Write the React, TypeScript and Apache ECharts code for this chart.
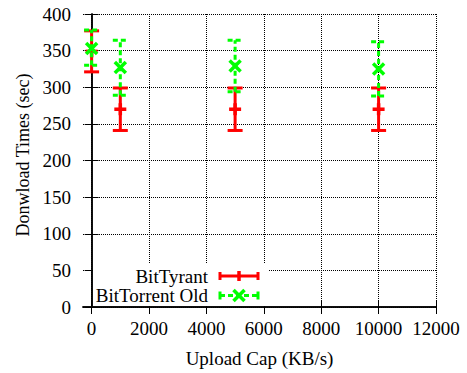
import React, { useEffect, useRef } from "react";
import * as echarts from "echarts";

const uploadCaps = [0, 1000, 5000, 10000];
const tyrantMean = [349, 270, 270, 270];
const tyrantLow = [321, 241, 241, 241];
const tyrantHigh = [377, 299, 299, 299];
const oldMean = [353, 327, 329, 325];
const oldLow = [330, 289, 294, 288];
const oldHigh = [378, 364, 364, 362];
const xTicks = [0, 2000, 4000, 6000, 8000, 10000, 12000];
const seriesNames = ["BitTyrant", "BitTorrent Old"];
const xTitle = "Upload Cap (KB/s)";
const yTitle = "Donwload Times (sec)";

const FONT = "Liberation Serif";
const RED = "#ff0000";
const GREEN = "#00ff00";
const DASH = [5, 3];

function makeRender(kind: "plus" | "cross", color: string, dash: number[] | null) {
  return (params: any, api: any) => {
    const x = api.value(0);
    const p = api.coord([x, api.value(1)]);
    const lo = api.coord([x, api.value(2)]);
    const hi = api.coord([x, api.value(3)]);
    const cap = 7.5;
    const style: any = { stroke: color, lineWidth: 3, fill: null };
    if (dash) style.lineDash = dash;
    const children: any[] = [
      { type: "line", shape: { x1: p[0], y1: lo[1], x2: p[0], y2: hi[1] }, style },
      { type: "line", shape: { x1: p[0] - cap, y1: lo[1], x2: p[0] + cap, y2: lo[1] }, style },
      { type: "line", shape: { x1: p[0] - cap, y1: hi[1], x2: p[0] + cap, y2: hi[1] }, style },
    ];
    const ms: any = { stroke: color, lineWidth: 3.5, fill: null };
    if (kind === "plus") {
      children.push({ type: "line", shape: { x1: p[0] - 6, y1: p[1], x2: p[0] + 6, y2: p[1] }, style: ms });
      children.push({ type: "line", shape: { x1: p[0], y1: p[1] - 6, x2: p[0], y2: p[1] + 6 }, style: ms });
    } else {
      children.push({ type: "line", shape: { x1: p[0] - 5.5, y1: p[1] - 5.5, x2: p[0] + 5.5, y2: p[1] + 5.5 }, style: ms });
      children.push({ type: "line", shape: { x1: p[0] - 5.5, y1: p[1] + 5.5, x2: p[0] + 5.5, y2: p[1] - 5.5 }, style: ms });
    }
    return { type: "group", children };
  };
}

function legendSample(y: number, color: string, dash: number[] | null, kind: "plus" | "cross") {
  const x1 = 220, x2 = 258, xm = 239;
  const style: any = { stroke: color, lineWidth: 3, fill: null };
  if (dash) style.lineDash = dash;
  const ms: any = { stroke: color, lineWidth: 3.5, fill: null };
  const els: any[] = [
    { type: "line", z: 12, shape: { x1, y1: y, x2, y2: y }, style },
    { type: "line", z: 12, shape: { x1, y1: y - 4, x2: x1, y2: y + 4 }, style: { stroke: color, lineWidth: 3 } },
    { type: "line", z: 12, shape: { x1: x2, y1: y - 4, x2, y2: y + 4 }, style: { stroke: color, lineWidth: 3 } },
  ];
  if (kind === "plus") {
    els.push({ type: "line", z: 12, shape: { x1: xm, y1: y - 5, x2: xm, y2: y + 5 }, style: ms });
  } else {
    els.push({ type: "line", z: 12, shape: { x1: xm - 5.5, y1: y - 5.5, x2: xm + 5.5, y2: y + 5.5 }, style: ms });
    els.push({ type: "line", z: 12, shape: { x1: xm - 5.5, y1: y + 5.5, x2: xm + 5.5, y2: y - 5.5 }, style: ms });
  }
  return els;
}

export default function App() {
  const ref = useRef<HTMLDivElement>(null);
  useEffect(() => {
    if (!ref.current) return;
    const chart = echarts.init(ref.current, null, { renderer: "svg" });
    const tyrantData = uploadCaps.map((x, i) => [x, tyrantMean[i], tyrantLow[i], tyrantHigh[i]]);
    const oldData = uploadCaps.map((x, i) => [x, oldMean[i], oldLow[i], oldHigh[i]]);
    const axisLine = { show: true, lineStyle: { color: "#000", width: 1.5 } };
    const grid = { show: true, lineStyle: { color: "#000", width: 1, type: "dotted" } };
    const label = { color: "#000", fontFamily: FONT, fontSize: 19 };
    chart.setOption({
      animation: false,
      backgroundColor: "#fff",
      grid: { left: 83, right: 31, top: 14, bottom: 60, containLabel: false },
      xAxis: [
        {
          type: "value",
          min: -300,
          max: 12000,
          position: "bottom",
          axisLine,
          axisTick: { show: true, inside: true, length: 7, customValues: xTicks, lineStyle: { color: "#000", width: 1 } },
          axisLabel: { ...label, margin: 12, customValues: xTicks, formatter: (v: number) => String(v) },
          splitLine: grid,
          name: xTitle,
          nameLocation: "middle",
          nameGap: 42,
          nameTextStyle: { ...label },
          z: 1,
        },
        {
          type: "value",
          min: -300,
          max: 12000,
          position: "top",
          axisLine,
          axisTick: { show: true, inside: true, length: 7, customValues: xTicks, lineStyle: { color: "#000", width: 1 } },
          axisLabel: { show: false },
          splitLine: grid,
          z: 1,
        },
      ],
      yAxis: [
        {
          type: "value",
          min: 0,
          max: 400,
          interval: 50,
          position: "left",
          axisLine,
          axisTick: { show: true, inside: true, length: 7, lineStyle: { color: "#000", width: 1 } },
          axisLabel: { ...label, margin: 12, formatter: (v: number) => String(v) },
          splitLine: grid,
          z: 1,
        },
        {
          type: "value",
          min: 0,
          max: 400,
          interval: 50,
          position: "right",
          axisLine,
          axisTick: { show: true, inside: true, length: 7, lineStyle: { color: "#000", width: 1 } },
          axisLabel: { show: false },
          splitLine: { show: false },
          z: 1,
        },
      ],
      series: [
        {
          name: seriesNames[0],
          type: "custom",
          xAxisIndex: 0,
          yAxisIndex: 0,
          renderItem: makeRender("plus", RED, null),
          encode: { x: 0, y: [1, 2, 3] },
          data: tyrantData,
          clip: false,
          z: 3,
        },
        {
          name: seriesNames[1],
          type: "custom",
          xAxisIndex: 0,
          yAxisIndex: 0,
          renderItem: makeRender("cross", GREEN, DASH),
          encode: { x: 0, y: [1, 2, 3] },
          data: oldData,
          clip: false,
          z: 4,
        },
      ],
      graphic: [
        { type: "rect", z: 10, shape: { x: 93, y: 264, width: 175, height: 42 }, style: { fill: "#fff" } },
        { type: "text", z: 12, x: 208, y: 276, style: { text: seriesNames[0], fill: "#000", font: `19px ${FONT}`, textAlign: "right", textVerticalAlign: "middle" } },
        { type: "text", z: 12, x: 208, y: 295.5, style: { text: seriesNames[1], fill: "#000", font: `19px ${FONT}`, textAlign: "right", textVerticalAlign: "middle" } },
        ...legendSample(276, RED, null, "plus"),
        ...legendSample(295.5, GREEN, DASH, "cross"),
        { type: "text", z: 12, x: 23, y: 155, rotation: Math.PI / 2, style: { text: yTitle, fill: "#000", font: `18px ${FONT}`, textAlign: "center", textVerticalAlign: "middle" } },
      ],
    });
    return () => chart.dispose();
  }, []);
  return <div ref={ref} style={{ position: "fixed", left: 0, top: 0, width: 467, height: 373 }} />;
}
